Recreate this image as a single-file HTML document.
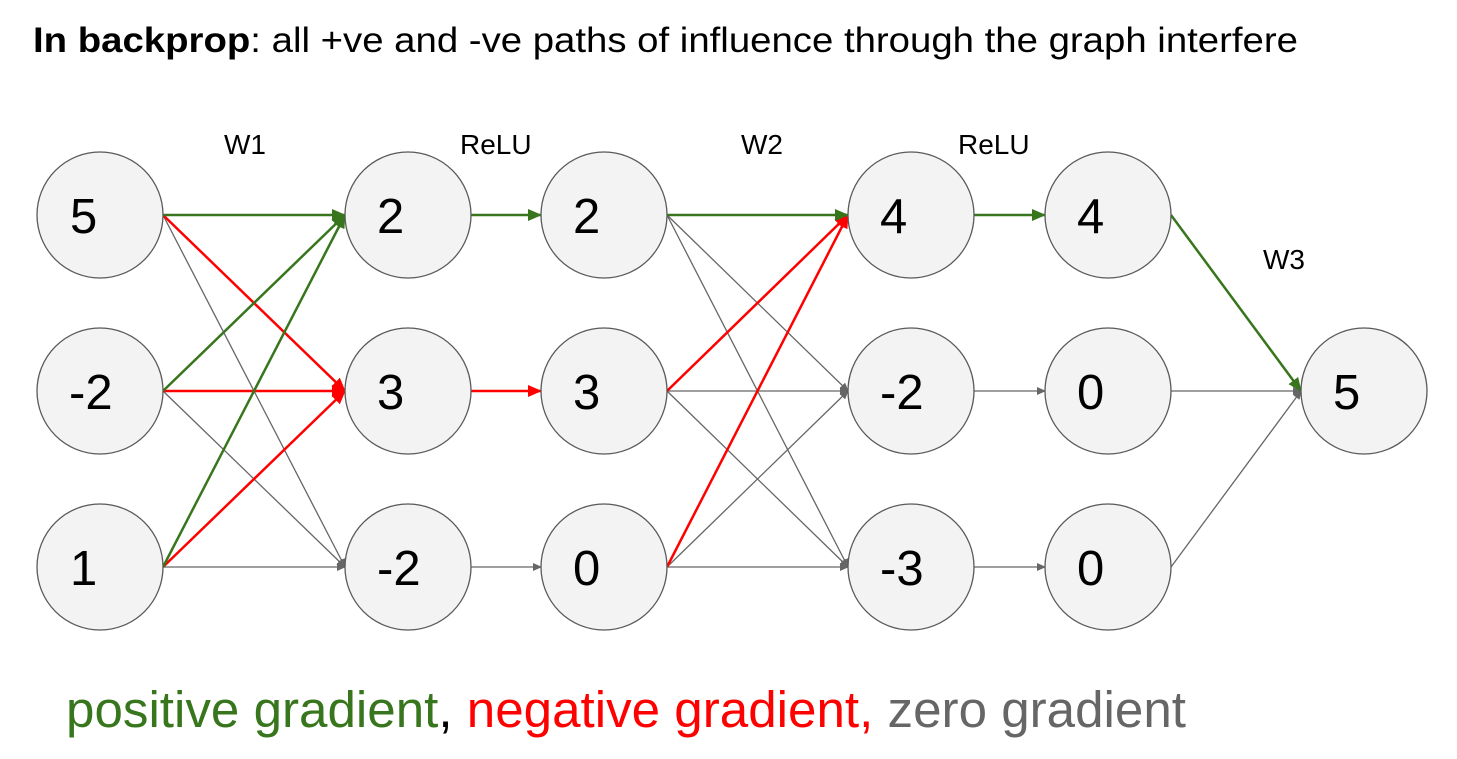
<!DOCTYPE html>
<html><head><meta charset="utf-8"><style>
html,body{margin:0;padding:0;background:#fff;}
svg{display:block;font-family:"Liberation Sans",Arial,sans-serif;}
</style></head><body>
<svg width="1457" height="759" viewBox="0 0 1457 759" xmlns="http://www.w3.org/2000/svg">
<defs>
<marker id="ag" markerWidth="14" markerHeight="12" refX="13" refY="6" orient="auto" markerUnits="userSpaceOnUse"><path d="M0,0 L14,6 L0,12 z" fill="#38761d"/></marker>
<marker id="ar" markerWidth="14" markerHeight="12" refX="13" refY="6" orient="auto" markerUnits="userSpaceOnUse"><path d="M0,0 L14,6 L0,12 z" fill="#ff0000"/></marker>
<marker id="ak" markerWidth="9" markerHeight="8" refX="8" refY="4" orient="auto" markerUnits="userSpaceOnUse"><path d="M0,0 L9,4 L0,8 z" fill="#666"/></marker>
</defs>
<text x="33" y="52" font-size="35" textLength="1265" lengthAdjust="spacingAndGlyphs" fill="#000"><tspan font-weight="bold">In backprop</tspan>: all +ve and -ve paths of influence through the graph interfere</text>
<g font-size="28" fill="#000">
<text x="224" y="154">W1</text><text x="460" y="154">ReLU</text><text x="741" y="154">W2</text><text x="958" y="154">ReLU</text><text x="1263" y="269">W3</text>
</g>
<g fill="none">
<g stroke="#666" stroke-width="1.3" marker-end="url(#ak)">
<line x1="163" y1="215" x2="345" y2="567"/>
<line x1="163" y1="391" x2="345" y2="567"/>
<line x1="163" y1="567" x2="345" y2="567"/>
<line x1="471" y1="567" x2="541" y2="567"/>
<line x1="667" y1="215" x2="848" y2="391"/>
<line x1="667" y1="215" x2="848" y2="567"/>
<line x1="667" y1="391" x2="848" y2="391"/>
<line x1="667" y1="391" x2="848" y2="567"/>
<line x1="667" y1="567" x2="848" y2="391"/>
<line x1="667" y1="567" x2="848" y2="567"/>
<line x1="974" y1="391" x2="1045" y2="391"/>
<line x1="974" y1="567" x2="1045" y2="567"/>
<line x1="1171" y1="391" x2="1301" y2="391"/>
<line x1="1171" y1="567" x2="1301" y2="391"/>
</g>
<g stroke="#ff0000" stroke-width="2.5" marker-end="url(#ar)">
<line x1="163" y1="215" x2="345" y2="391"/>
<line x1="163" y1="391" x2="345" y2="391"/>
<line x1="163" y1="567" x2="345" y2="391"/>
<line x1="471" y1="391" x2="541" y2="391"/>
<line x1="667" y1="391" x2="848" y2="215"/>
<line x1="667" y1="567" x2="848" y2="215"/>
</g>
<g stroke="#38761d" stroke-width="2.5" marker-end="url(#ag)">
<line x1="163" y1="215" x2="345" y2="215"/>
<line x1="163" y1="391" x2="345" y2="215"/>
<line x1="163" y1="567" x2="345" y2="215"/>
<line x1="471" y1="215" x2="541" y2="215"/>
<line x1="667" y1="215" x2="848" y2="215"/>
<line x1="974" y1="215" x2="1045" y2="215"/>
<line x1="1171" y1="215" x2="1301" y2="391"/>
</g>
</g>
<g fill="#f3f3f3" stroke="#595959" stroke-width="1.3">
<circle cx="100" cy="215" r="63"/><circle cx="100" cy="391" r="63"/><circle cx="100" cy="567" r="63"/>
<circle cx="408" cy="215" r="63"/><circle cx="408" cy="391" r="63"/><circle cx="408" cy="567" r="63"/>
<circle cx="604" cy="215" r="63"/><circle cx="604" cy="391" r="63"/><circle cx="604" cy="567" r="63"/>
<circle cx="911" cy="215" r="63"/><circle cx="911" cy="391" r="63"/><circle cx="911" cy="567" r="63"/>
<circle cx="1108" cy="215" r="63"/><circle cx="1108" cy="391" r="63"/><circle cx="1108" cy="567" r="63"/>
<circle cx="1364" cy="391" r="63"/>
</g>
<g font-size="49" fill="#000">
<text x="70" y="233">5</text><text x="69" y="409">-2</text><text x="70" y="585">1</text>
<text x="377" y="233">2</text><text x="377" y="409">3</text><text x="377" y="585">-2</text>
<text x="573" y="233">2</text><text x="573" y="409">3</text><text x="573" y="585">0</text>
<text x="880" y="233">4</text><text x="880" y="409">-2</text><text x="880" y="585">-3</text>
<text x="1077" y="233">4</text><text x="1077" y="409">0</text><text x="1077" y="585">0</text>
<text x="1333" y="409">5</text>
</g>
<text x="66" y="727" font-size="51" textLength="1120" lengthAdjust="spacingAndGlyphs"><tspan fill="#38761d">positive gradient</tspan><tspan fill="#000">, </tspan><tspan fill="#ff0000">negative gradient, </tspan><tspan fill="#666">zero gradient</tspan></text>
</svg>
</body></html>
